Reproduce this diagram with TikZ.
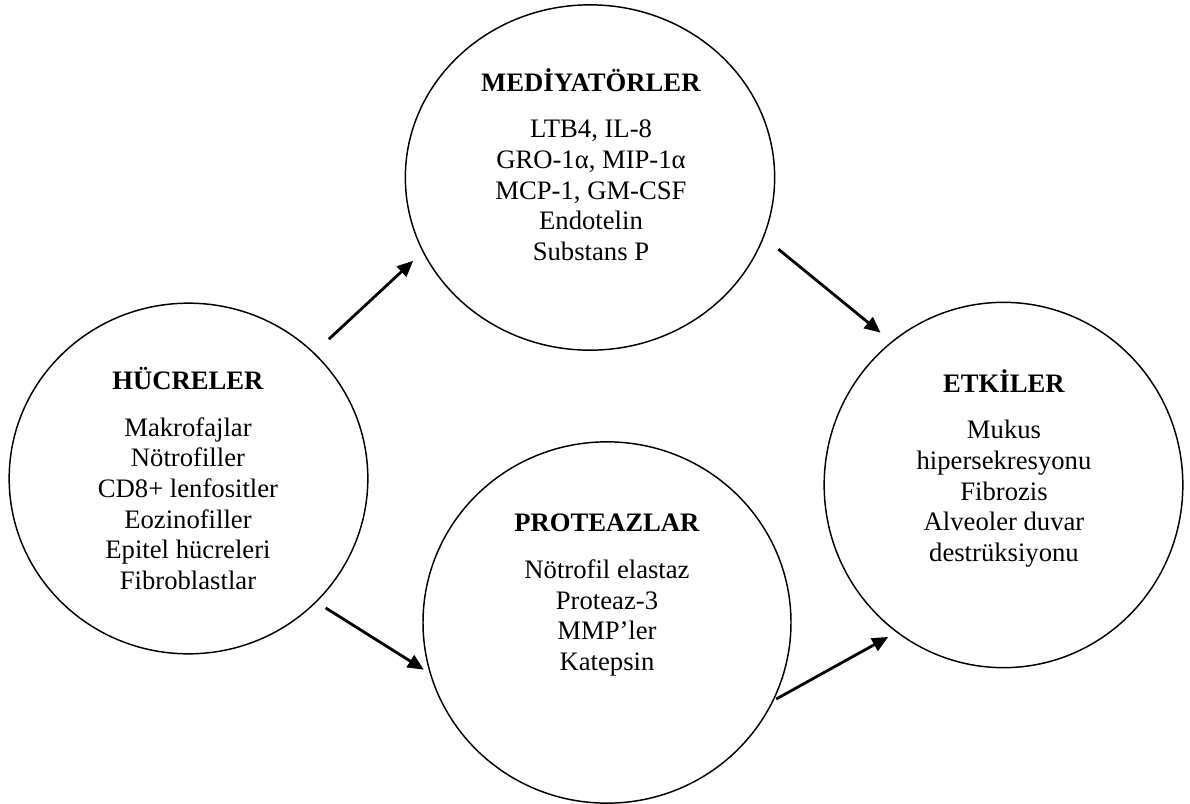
\documentclass[tikz,border=0pt]{standalone}
\usepackage{fontspec}
\setmainfont{Liberation Serif}
\usetikzlibrary{arrows.meta, shapes.geometric}
\tikzset{
  oval/.style={ellipse, draw=black, line width=1.1pt, inner sep=0pt},
  txt/.style={align=center, inner sep=0pt, font=\fontsize{20pt}{23pt}\selectfont},
  flow/.style={-{Triangle[length=12pt, width=10.5pt]}, line width=2.1pt},
}
\newcommand{\hd}[1]{\textbf{#1}\\[12pt]}

\begin{document}
\begin{tikzpicture}[x=0.75pt, y=-0.75pt]
    \useasboundingbox (0,0) rectangle (1190,804);
    \node[oval, minimum width=269pt, minimum height=263pt] (huc) at (188.5,478.5) {};
    \node[oval, minimum width=277pt, minimum height=259pt] (med) at (590,177.5) {};
    \node[oval, minimum width=276pt, minimum height=271pt] (pro) at (607,622.5) {};
    \node[oval, minimum width=269pt, minimum height=274pt] (etk) at (1003.5,485) {};
    \node[txt] (hucT) at (188,478.6) {\hd{HÜCRELER}Makrofajlar\\Nötrofiller\\CD8+ lenfositler\\Eozinofiller\\Epitel hücreleri\\Fibroblastlar};
    \node[txt] (medT) at (591,164.5) {\hd{MEDİYATÖRLER}LTB4, IL-8\\GRO-1α, MIP-1α\\MCP-1, GM-CSF\\Endotelin\\Substans P};
    \node[txt] (proT) at (607,595.3) {\hd{PROTEAZLAR}Nötrofil elastaz\\Proteaz-3\\MMP’ler\\Katepsin};
    \node[txt] (etkT) at (1004,468.2) {\hd{ETKİLER}Mukus\\hipersekresyonu\\Fibrozis\\Alveoler duvar\\destrüksiyonu};
    \draw[flow, shorten <=14.8pt, shorten >=9.7pt] (huc.45) -- (med.204);
    \draw[flow, shorten <=8pt, shorten >=5.2pt] (huc.316) -- (pro.196);
    \draw[flow, shorten <=14pt, shorten >=10.5pt] (med.341) -- (etk.128);
    \draw[flow, shorten <=2pt, shorten >=7pt] (pro.335) -- (etk.234);
\end{tikzpicture}
\end{document}
